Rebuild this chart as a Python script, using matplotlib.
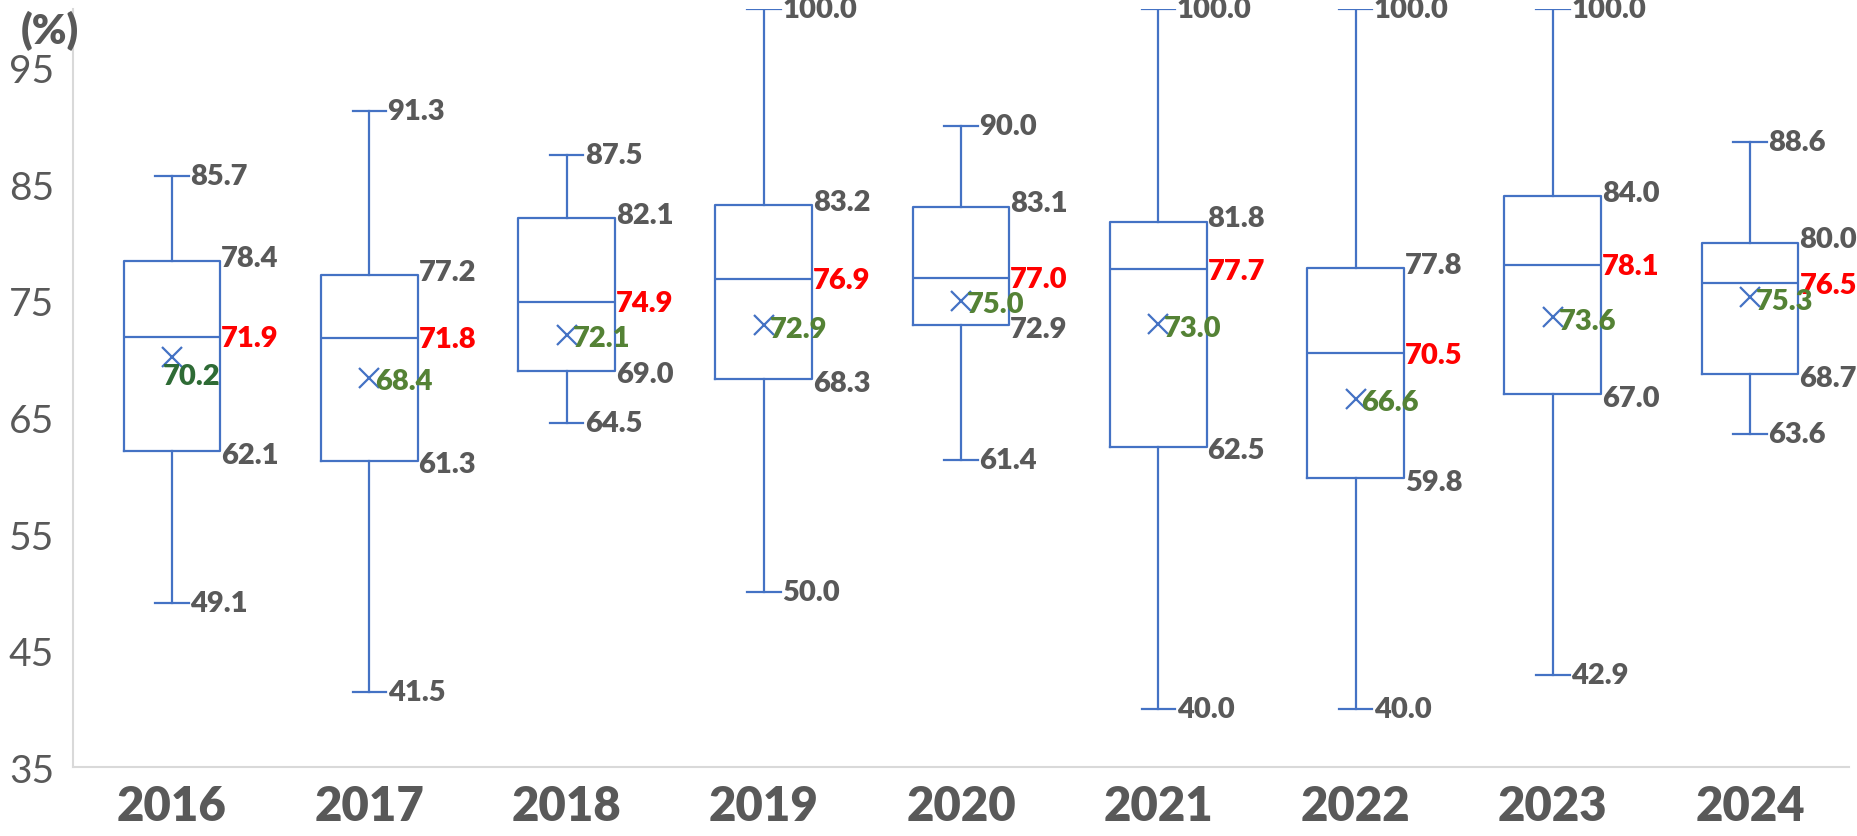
import matplotlib
matplotlib.use("Agg")
import matplotlib.pyplot as plt

# box plot summary per year
years = ["2016", "2017", "2018", "2019", "2020", "2021", "2022", "2023", "2024"]
mins = [49.1, 41.5, 64.5, 50.0, 61.4, 40.0, 40.0, 42.9, 63.6]
q1s = [62.1, 61.3, 69.0, 68.3, 72.9, 62.5, 59.8, 67.0, 68.7]
medians = [71.9, 71.8, 74.9, 76.9, 77.0, 77.7, 70.5, 78.1, 76.5]
q3s = [78.4, 77.2, 82.1, 83.2, 83.1, 81.8, 77.8, 84.0, 80.0]
maxs = [85.7, 91.3, 87.5, 100.0, 90.0, 100.0, 100.0, 100.0, 88.6]
means = [70.2, 68.4, 72.1, 72.9, 75.0, 73.0, 66.6, 73.6, 75.3]
yticks = [35, 45, 55, 65, 75, 85, 95]

BLUE = "#4472C4"
GRAY = "#595959"
RED = "#FF0000"
GREEN = "#548235"

plt.rcParams["font.family"] = ["Lato", "DejaVu Sans"]

fig = plt.figure(figsize=(18.58, 8.37), dpi=100)
ax = fig.add_axes([0.0395, 0.082, 0.9555, 0.9055])

stats = []
for i, y in enumerate(years):
    stats.append({"label": y, "whislo": mins[i], "q1": q1s[i], "med": medians[i],
                  "q3": q3s[i], "whishi": maxs[i], "mean": means[i]})

box_w = 0.49
ax.bxp(stats, positions=range(len(years)), widths=box_w, showmeans=True,
       showfliers=False, capwidths=0.17,
       boxprops=dict(color=BLUE, linewidth=1.6),
       whiskerprops=dict(color=BLUE, linewidth=1.6),
       capprops=dict(color=BLUE, linewidth=1.6),
       medianprops=dict(color=BLUE, linewidth=1.6),
       meanprops=dict(marker="x", markeredgecolor=BLUE, markersize=14,
                      markeredgewidth=1.6))

lab = dict(fontsize=21, fontweight="heavy", va="center", ha="left", clip_on=False)
for i in range(len(years)):
    xr = i + box_w / 2 + 0.005
    xc = i + 0.085 + 0.008
    ax.text(xc, maxs[i], f"{maxs[i]:.1f}", color=GRAY, **lab)
    ax.text(xc, mins[i], f"{mins[i]:.1f}", color=GRAY, **lab)
    ax.text(xr, q3s[i] + 0.3, f"{q3s[i]:.1f}", color=GRAY, **lab)
    ax.text(xr, q1s[i] - 0.3, f"{q1s[i]:.1f}", color=GRAY, **lab)
    ax.text(xr, medians[i] - 0.1, f"{medians[i]:.1f}", color=RED, **lab)
    if i == 0:
        ax.text(i + box_w / 2, means[i] - 1.6, f"{means[i]:.1f}", color="#2E6B35",
                fontsize=21, fontweight="heavy", va="center", ha="right")
    else:
        ax.text(i + 0.03, means[i] - 0.3, f"{means[i]:.1f}", color=GREEN, **lab)

ax.set_xlim(-0.5, len(years) - 0.5)
ax.set_ylim(35, 100)
ax.set_yticks(yticks)
ax.set_xticks(range(len(years)))
ax.set_xticklabels(years, fontsize=34, fontweight="heavy", color=GRAY)
ax.tick_params(axis="y", labelsize=28, labelcolor=GRAY, length=0, pad=14)
ax.tick_params(axis="x", length=0, pad=12)
for s in ["top", "right"]:
    ax.spines[s].set_visible(False)
for s in ["left", "bottom"]:
    ax.spines[s].set_color("#D9D9D9")
    ax.spines[s].set_linewidth(1.5)

fig.text(0.011, 0.963, "(%)", fontsize=30, fontweight="heavy", color=GRAY,
         ha="left", va="center")

fig.savefig("out.png", dpi=100)
